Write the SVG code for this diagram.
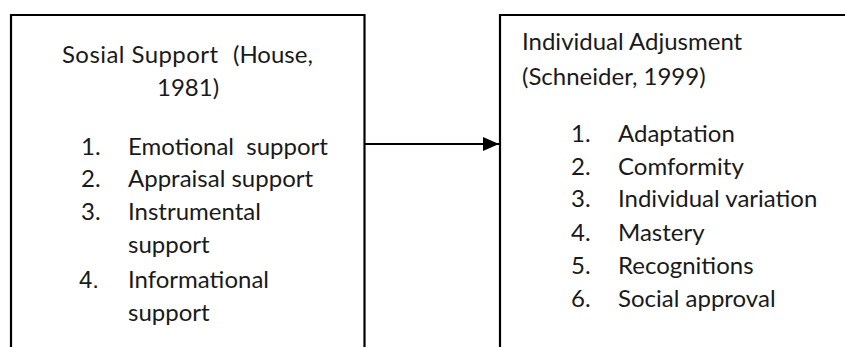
<svg xmlns="http://www.w3.org/2000/svg" width="845" height="347" viewBox="0 0 845 347">
<defs>
<style>
.box{fill:none;stroke:#000;stroke-width:2.2}
.t{font-family:"Lato","Open Sans","DejaVu Sans",sans-serif;font-size:24px;fill:#1a1a1a}
.n4{font-family:"Liberation Sans",sans-serif;font-size:24px;fill:#1a1a1a}
.edge{stroke:#000;stroke-width:2.2;fill:none}
</style>
<marker id="arr" markerWidth="16" markerHeight="14" refX="16" refY="7" orient="auto" markerUnits="userSpaceOnUse">
<path d="M0,0 L16,7 L0,14 Z" fill="#000"/>
</marker>
</defs>
<rect width="845" height="347" fill="#fff"/>
<g id="social-support">
<path class="box" d="M11,347 V15 H364.5 V347"/>
<text class="t" x="62" y="63" textLength="156" lengthAdjust="spacing">Sosial Support</text>
<text class="t" x="233" y="63">(House,</text>
<text class="t" x="157" y="96">1981)</text>
<text class="t" x="81" y="155">1.</text><text class="t" x="128" y="155" xml:space="preserve">Emotional  support</text>
<text class="t" x="81" y="187">2.</text><text class="t" x="128" y="187">Appraisal support</text>
<text class="t" x="81" y="220">3.</text><text class="t" x="128" y="220">Instrumental</text>
<text class="t" x="128" y="253">support</text>
<text class="n4" x="79" y="288">4.</text><text class="t" x="128" y="288">Informational</text>
<text class="t" x="128" y="321">support</text>
</g>
<g id="individual-adjustment">
<path class="box" d="M500,347 V15 H845"/>
<text class="t" x="522" y="50">Individual Adjusment</text>
<text class="t" x="522" y="85">(Schneider, 1999)</text>
<text class="t" x="571" y="142">1.</text><text class="t" x="618" y="142">Adaptation</text>
<text class="t" x="571" y="175">2.</text><text class="t" x="618" y="175">Comformity</text>
<text class="t" x="571" y="207">3.</text><text class="t" x="618" y="207">Individual variation</text>
<text class="t" x="571" y="241">4.</text><text class="t" x="618" y="241">Mastery</text>
<text class="t" x="571" y="274">5.</text><text class="t" x="618" y="274">Recognitions</text>
<text class="t" x="571" y="307">6.</text><text class="t" x="618" y="307">Social approval</text>
</g>
<g id="connectors">
<line class="edge" x1="365" y1="144" x2="499" y2="144" marker-end="url(#arr)"/>
</g>
</svg>
